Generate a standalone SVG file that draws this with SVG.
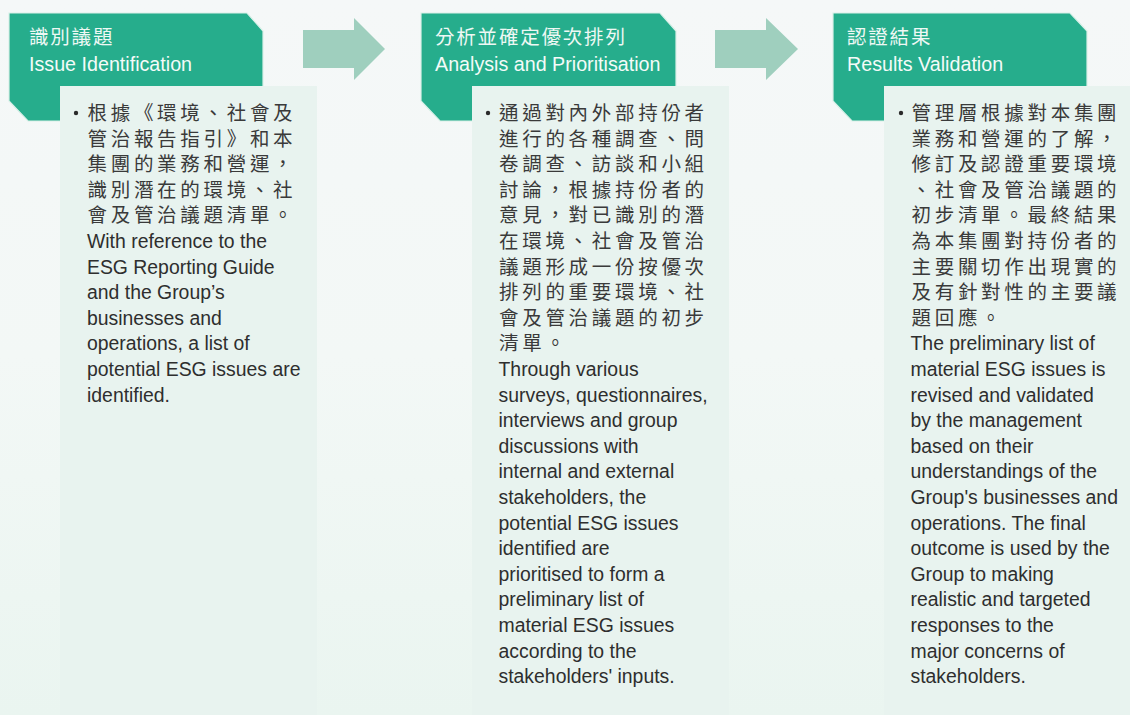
<svg xmlns="http://www.w3.org/2000/svg" width="1130" height="715" viewBox="0 0 1130 715">
<defs>
<linearGradient id="bg" x1="0" y1="0" x2="0" y2="1">
<stop offset="0" stop-color="#f5f8f8"/>
<stop offset="0.5" stop-color="#f3f8f6"/>
<stop offset="1" stop-color="#eaf5f0"/>
</linearGradient>
<style>
.hdr{fill:#26ad8c;stroke:#d9f0e8;stroke-width:1.2}
.body{fill:#e8f3ef}
.arrow{fill:#9fcfbe}
.hzh{font-family:"Noto Sans CJK TC","Noto Sans CJK SC",sans-serif;font-size:19.5px;letter-spacing:1.8px;fill:#eef8f4}
.hen{font-family:"Liberation Sans",Arial,sans-serif;font-size:19.7px;fill:#f4fbf8}
.zh{font-family:"Noto Sans CJK TC","Noto Sans CJK SC",sans-serif;font-size:19.5px;letter-spacing:3.7px;fill:#3a3a3a}
.en{font-family:"Liberation Sans",Arial,sans-serif;font-size:19.4px;fill:#2e2e2e}
.bul{fill:#2a2a2a}
</style>
</defs>
<rect x="0" y="0" width="1130" height="715" fill="url(#bg)"/>

<g id="connectors">
<polygon class="arrow" points="303,30 354,30 354,18 385,49 354,80 354,68 303,68"/>
<polygon class="arrow" points="715,30 766,30 766,18 798,49 766,80 766,68 715,68"/>
</g>

<g id="step1">
<polygon class="hdr" points="9,13 247,13 263,31 263,121 28,121 9,101"/>
<text class="hzh" x="29" y="43.5">識別議題</text>
<text class="hen" x="29" y="71">Issue Identification</text>
<rect class="body" x="60" y="86" width="257" height="629"/>
<circle class="bul" cx="76" cy="113" r="2.2"/>
<text class="zh">
<tspan x="87.5" y="120">根據《環境、社會及</tspan>
<tspan x="87.5" y="145.6">管治報告指引》和本</tspan>
<tspan x="87.5" y="171.2">集團的業務和營運，</tspan>
<tspan x="87.5" y="196.8">識別潛在的環境、社</tspan>
<tspan x="87.5" y="222.4">會及管治議題清單。</tspan>
</text>
<text class="en">
<tspan x="87" y="248">With reference to the</tspan>
<tspan x="87" y="273.6">ESG Reporting Guide</tspan>
<tspan x="87" y="299.2">and the Group’s</tspan>
<tspan x="87" y="324.8">businesses and</tspan>
<tspan x="87" y="350.4">operations, a list of</tspan>
<tspan x="87" y="376">potential ESG issues are</tspan>
<tspan x="87" y="401.6">identified.</tspan>
</text>
</g>

<g id="step2">
<polygon class="hdr" points="421,13 660,13 676,31 676,121 440,121 421,101"/>
<text class="hzh" x="435" y="43.5">分析並確定優次排列</text>
<text class="hen" x="435" y="71">Analysis and Prioritisation</text>
<rect class="body" x="472" y="86" width="257" height="629"/>
<circle class="bul" cx="488" cy="113" r="2.2"/>
<text class="zh">
<tspan x="499" y="120">通過對內外部持份者</tspan>
<tspan x="499" y="145.6">進行的各種調查、問</tspan>
<tspan x="499" y="171.2">卷調查、訪談和小組</tspan>
<tspan x="499" y="196.8">討論，根據持份者的</tspan>
<tspan x="499" y="222.4">意見，對已識別的潛</tspan>
<tspan x="499" y="248">在環境、社會及管治</tspan>
<tspan x="499" y="273.6">議題形成一份按優次</tspan>
<tspan x="499" y="299.2">排列的重要環境、社</tspan>
<tspan x="499" y="324.8">會及管治議題的初步</tspan>
<tspan x="499" y="350.4">清單。</tspan>
</text>
<text class="en">
<tspan x="498.5" y="376">Through various</tspan>
<tspan x="498.5" y="401.6">surveys, questionnaires,</tspan>
<tspan x="498.5" y="427.2">interviews and group</tspan>
<tspan x="498.5" y="452.8">discussions with</tspan>
<tspan x="498.5" y="478.4">internal and external</tspan>
<tspan x="498.5" y="504">stakeholders, the</tspan>
<tspan x="498.5" y="529.6">potential ESG issues</tspan>
<tspan x="498.5" y="555.2">identified are</tspan>
<tspan x="498.5" y="580.8">prioritised to form a</tspan>
<tspan x="498.5" y="606.4">preliminary list of</tspan>
<tspan x="498.5" y="632">material ESG issues</tspan>
<tspan x="498.5" y="657.6">according to the</tspan>
<tspan x="498.5" y="683.2">stakeholders' inputs.</tspan>
</text>
</g>

<g id="step3">
<polygon class="hdr" points="833,13 1070,13 1087,31 1087,121 852,121 833,101"/>
<text class="hzh" x="847" y="43.5">認證結果</text>
<text class="hen" x="847" y="71">Results Validation</text>
<rect class="body" x="884" y="86" width="246" height="629"/>
<circle class="bul" cx="901" cy="113" r="2.2"/>
<text class="zh">
<tspan x="911.5" y="120">管理層根據對本集團</tspan>
<tspan x="911.5" y="145.6">業務和營運的了解，</tspan>
<tspan x="911.5" y="171.2">修訂及認證重要環境</tspan>
<tspan x="911.5" y="196.8">、社會及管治議題的</tspan>
<tspan x="911.5" y="222.4">初步清單。最終結果</tspan>
<tspan x="911.5" y="248">為本集團對持份者的</tspan>
<tspan x="911.5" y="273.6">主要關切作出現實的</tspan>
<tspan x="911.5" y="299.2">及有針對性的主要議</tspan>
<tspan x="911.5" y="324.8">題回應。</tspan>
</text>
<text class="en">
<tspan x="910.5" y="350.4">The preliminary list of</tspan>
<tspan x="910.5" y="376">material ESG issues is</tspan>
<tspan x="910.5" y="401.6">revised and validated</tspan>
<tspan x="910.5" y="427.2">by the management</tspan>
<tspan x="910.5" y="452.8">based on their</tspan>
<tspan x="910.5" y="478.4">understandings of the</tspan>
<tspan x="910.5" y="504">Group's businesses and</tspan>
<tspan x="910.5" y="529.6">operations. The final</tspan>
<tspan x="910.5" y="555.2">outcome is used by the</tspan>
<tspan x="910.5" y="580.8">Group to making</tspan>
<tspan x="910.5" y="606.4">realistic and targeted</tspan>
<tspan x="910.5" y="632">responses to the</tspan>
<tspan x="910.5" y="657.6">major concerns of</tspan>
<tspan x="910.5" y="683.2">stakeholders.</tspan>
</text>
</g>
</svg>
